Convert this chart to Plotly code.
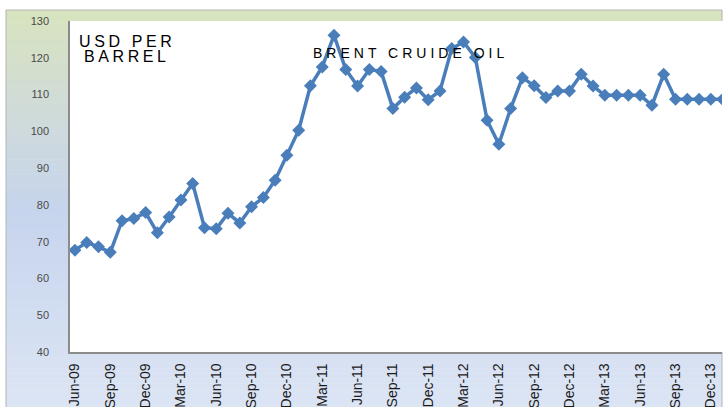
import plotly.graph_objects as go

months = ["Jun-09", "Jul-09", "Aug-09", "Sep-09", "Oct-09", "Nov-09", "Dec-09",
          "Jan-10", "Feb-10", "Mar-10", "Apr-10", "May-10", "Jun-10", "Jul-10",
          "Aug-10", "Sep-10", "Oct-10", "Nov-10", "Dec-10", "Jan-11", "Feb-11",
          "Mar-11", "Apr-11", "May-11", "Jun-11", "Jul-11", "Aug-11", "Sep-11",
          "Oct-11", "Nov-11", "Dec-11", "Jan-12", "Feb-12", "Mar-12", "Apr-12",
          "May-12", "Jun-12", "Jul-12", "Aug-12", "Sep-12", "Oct-12", "Nov-12",
          "Dec-12", "Jan-13", "Feb-13", "Mar-13", "Apr-13", "May-13", "Jun-13",
          "Jul-13", "Aug-13", "Sep-13", "Oct-13", "Nov-13", "Dec-13", "Jan-14"]

brent = [67.7, 69.8, 68.6, 67.1, 75.7, 76.3, 77.9, 72.4, 76.7, 81.3, 85.8, 73.8,
         73.5, 77.7, 75.1, 79.5, 82.0, 86.7, 93.5, 100.3, 112.4, 117.5, 126.1,
         116.8, 112.3, 116.8, 116.3, 106.2, 109.3, 111.8, 108.6, 111.0, 122.5,
         124.3, 120.1, 103.0, 96.5, 106.2, 114.6, 112.4, 109.2, 111.0, 111.0,
         115.5, 112.3, 109.8, 109.8, 109.8, 109.8, 107.1, 115.5, 108.7, 108.7,
         108.7, 108.7, 108.7]

x_tick_labels = ["Jun-09", "Sep-09", "Dec-09", "Mar-10", "Jun-10", "Sep-10",
                 "Dec-10", "Mar-11", "Jun-11", "Sep-11", "Dec-11", "Mar-12",
                 "Jun-12", "Sep-12", "Dec-12", "Mar-13", "Jun-13", "Sep-13",
                 "Dec-13"]
y_ticks = [40, 50, 60, 70, 80, 90, 100, 110, 120, 130]

W, H = 723, 407
ML, MR, MT, MB = 70, 1, 21, 55
PW = W - ML - MR
PH = H - MT - MB


def px_x(px):
    return (px - ML) / PW


def px_y(py):
    return (H - MB - py) / PH


def hex2rgb(h):
    h = h.lstrip("#")
    return tuple(int(h[i:i + 2], 16) for i in (0, 2, 4))


stops = [(0.0, "#d8e4bd"), (0.22, "#d1dcd6"), (0.5, "#c6d4ed"), (1.0, "#dce5f4")]


def grad(t):
    for (a, ca), (b, cb) in zip(stops[:-1], stops[1:]):
        if a <= t <= b:
            f = (t - a) / (b - a)
            c1, c2 = hex2rgb(ca), hex2rgb(cb)
            return "rgb(%d,%d,%d)" % tuple(round(c1[i] + (c2[i] - c1[i]) * f) for i in range(3))
    return stops[-1][1]


shapes = []
top, bot = 10, 408
n = 80
for i in range(n):
    y0 = top + (bot - top) * i / n
    y1 = top + (bot - top) * (i + 1) / n + 0.6
    shapes.append(dict(type="rect", xref="paper", yref="paper", layer="below",
                       x0=px_x(6), x1=px_x(722), y0=px_y(y1), y1=px_y(y0),
                       fillcolor=grad((i + 0.5) / n), line=dict(width=0)))
shapes.append(dict(type="rect", xref="paper", yref="paper", layer="below",
                   x0=px_x(6), x1=px_x(722), y0=px_y(410), y1=px_y(10),
                   fillcolor="rgba(0,0,0,0)", line=dict(color="#b4b4b4", width=1)))
# white plot area
shapes.append(dict(type="rect", xref="paper", yref="paper", layer="below",
                   x0=0, x1=1.01, y0=0, y1=1,
                   fillcolor="#ffffff", line=dict(width=0)))

fig = go.Figure()
fig.add_trace(go.Scatter(
    x=months, y=brent, mode="lines+markers",
    line=dict(color="#4a7ebb", width=3.5),
    marker=dict(symbol="diamond", size=10, color="#4a7ebb"),
    showlegend=False, hoverinfo="x+y"))

ann_font = "Liberation Sans, Arial, sans-serif"
annotations = [
    dict(text='<span style="letter-spacing:3.6px">USD PER</span>', x=px_x(127), y=px_y(41),
         xref="paper", yref="paper", showarrow=False, xanchor="center", yanchor="middle",
         font=dict(family=ann_font, size=16, color="#000000")),
    dict(text='<span style="letter-spacing:3.6px">BARREL</span>', x=px_x(127), y=px_y(57),
         xref="paper", yref="paper", showarrow=False, xanchor="center", yanchor="middle",
         font=dict(family=ann_font, size=16, color="#000000")),
    dict(text='<span style="letter-spacing:4px">BRENT CRUIDE OIL</span>', x=px_x(410), y=px_y(53),
         xref="paper", yref="paper", showarrow=False, xanchor="center", yanchor="middle",
         font=dict(family=ann_font, size=14, color="#000000")),
]

fig.update_layout(
    width=W, height=H,
    margin=dict(l=ML, r=MR, t=MT, b=MB, pad=0, autoexpand=False),
    paper_bgcolor="#ffffff", plot_bgcolor="#ffffff",
    shapes=shapes, annotations=annotations,
    xaxis=dict(type="category", range=[-0.42, 54.95], automargin=False,
               tickmode="array", tickvals=x_tick_labels, ticktext=x_tick_labels,
               tickangle=-90, tickfont=dict(family=ann_font, size=14, color="#1a1a1a"),
               showgrid=False, zeroline=False, showline=True, linecolor="#8c8c8c",
               linewidth=1.5, ticks="", ticklabelstandoff=4),
    yaxis=dict(range=[40, 130], tickmode="array", tickvals=y_ticks, automargin=False,
               tickfont=dict(family=ann_font, size=11, color="#4a4a4a"),
               showgrid=False, zeroline=False, showline=True, linecolor="#8c8c8c",
               linewidth=1.5, ticks="", ticklabelstandoff=17),
)

fig.write_html("out.html", config={"displayModeBar": False},
               post_script="document.body.style.margin='0';")
